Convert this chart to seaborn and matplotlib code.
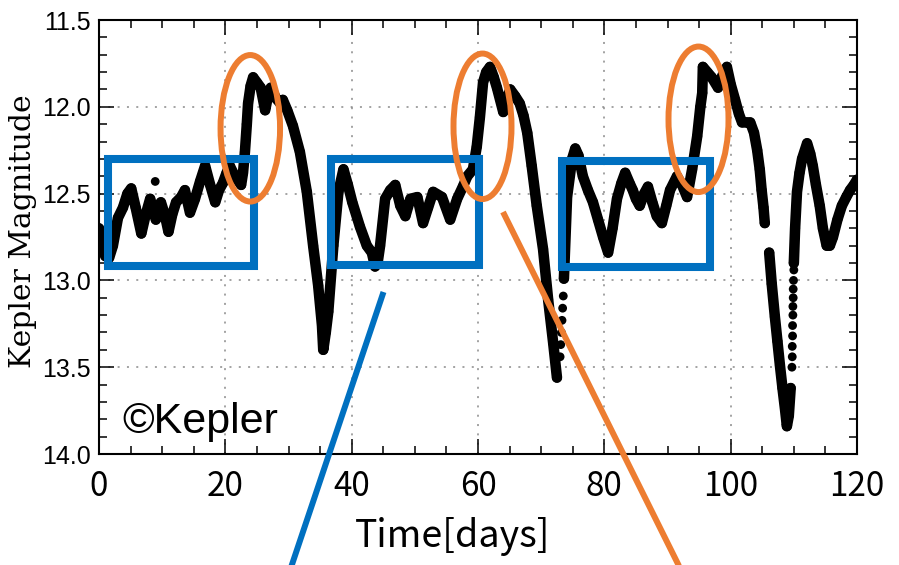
import numpy as np
import pandas as pd
import matplotlib
matplotlib.use("Agg")
import matplotlib.pyplot as plt
import seaborn as sns
from matplotlib.patches import Rectangle, Ellipse
from matplotlib.lines import Line2D
from matplotlib.ticker import MultipleLocator, FormatStrFormatter

# ---------------- data ----------------
seg_a_time = [0.0, 0.5, 1.0, 1.6, 2.2, 3.0, 3.8, 4.5, 5.1, 5.8, 6.7, 7.4, 8.1, 9.0, 9.8,
              10.4, 11.0, 11.6, 12.2, 13.0, 13.6, 14.4, 15.2, 16.0, 16.8, 17.6, 18.4, 19.0,
              19.6, 20.2, 20.7, 21.5, 22.5, 22.8, 23.1, 23.4, 23.6, 24.0, 24.4, 25.0, 25.6,
              26.3, 26.8, 27.2, 28.0, 28.7, 29.1, 29.8, 30.7, 31.8, 32.9, 33.9, 34.7, 35.3,
              35.5, 35.9, 36.3, 37.1, 37.9, 38.7, 39.4, 40.1, 41.3, 42.4, 43.2, 43.7, 44.1,
              44.5, 45.3, 46.1, 46.9, 47.7, 48.5, 49.3, 50.4, 51.3, 52.1, 52.9, 54.3, 55.6,
              56.7, 57.6, 58.3, 59.2, 59.8, 60.3, 60.8, 61.3, 61.9, 62.5, 63.0, 64.0, 64.5,
              65.1, 65.9, 66.6, 67.2, 67.8, 68.5, 69.3, 70.3, 71.1, 71.9, 72.5]
seg_a_mag = [12.70, 12.78, 12.86, 12.87, 12.80, 12.64, 12.58, 12.50, 12.47, 12.58, 12.73, 12.62,
             12.53, 12.65, 12.55, 12.62, 12.72, 12.62, 12.55, 12.52, 12.48, 12.61, 12.53, 12.43,
             12.34, 12.45, 12.55, 12.48, 12.44, 12.38, 12.34, 12.40, 12.45, 12.38, 12.26, 12.10,
             11.98, 11.88, 11.83, 11.86, 11.89, 12.02, 11.93, 11.89, 11.95, 11.98, 11.96, 12.02,
             12.11, 12.26, 12.49, 12.80, 13.03, 13.26, 13.40, 13.30, 13.18, 12.80, 12.49, 12.36,
             12.45, 12.55, 12.69, 12.80, 12.84, 12.92, 12.90, 12.80, 12.53, 12.48, 12.45, 12.57,
             12.63, 12.53, 12.52, 12.67, 12.58, 12.49, 12.52, 12.65, 12.53, 12.46, 12.40, 12.36,
             12.23, 12.06, 11.86, 11.80, 11.77, 11.83, 11.89, 12.03, 11.96, 11.90, 11.94, 11.98,
             12.05, 12.15, 12.34, 12.57, 12.82, 13.11, 13.36, 13.56]

seg_b_time = [73.6, 74.1, 74.9, 75.4, 75.9, 76.6, 77.4, 78.2, 79.0, 79.8, 80.6, 81.3, 82.0,
              82.7, 83.3, 84.0, 84.5, 85.0, 85.6, 86.3, 86.9, 87.6, 88.3, 89.1, 89.8, 90.4,
              91.5, 92.3, 93.1, 93.9, 94.7, 95.2, 95.5, 95.6, 96.3, 97.0, 98.0, 98.7, 99.4,
              100.0, 100.7, 101.3, 101.8, 102.5, 103.1, 103.7, 104.2, 104.6, 104.9, 105.2, 105.4]
seg_b_mag = [12.99, 12.52, 12.30, 12.24, 12.28, 12.40, 12.48, 12.55, 12.65, 12.75, 12.84, 12.70,
             12.53, 12.44, 12.38, 12.44, 12.48, 12.53, 12.57, 12.50, 12.46, 12.55, 12.63, 12.67,
             12.57, 12.48, 12.40, 12.45, 12.52, 12.36, 12.17, 12.00, 11.92, 11.77, 11.80, 11.83,
             11.89, 11.82, 11.77, 11.87, 11.96, 12.04, 12.09, 12.09, 12.09, 12.15, 12.25, 12.36,
             12.48, 12.58, 12.67]

seg_c_time = [106.1, 106.5, 107.0, 107.4, 107.8, 108.2, 108.6, 108.9, 109.2, 109.5]
seg_c_mag = [12.84, 13.02, 13.21, 13.35, 13.49, 13.62, 13.74, 13.84, 13.78, 13.62]

seg_d_time = [110.0, 110.2, 110.5, 110.9, 111.3, 112.1, 112.6, 113.0, 113.5, 114.1, 114.6,
              115.2, 115.7, 116.2, 116.9, 117.6, 118.3, 118.9, 119.5, 120.0]
seg_d_mag = [12.90, 12.70, 12.49, 12.38, 12.30, 12.21, 12.27, 12.34, 12.45, 12.57, 12.70,
             12.80, 12.80, 12.75, 12.65, 12.57, 12.52, 12.48, 12.45, 12.42]

# isolated / sparse points
dots_time = [8.9, 73.0, 73.1, 73.2, 73.3, 73.4, 73.5,
             109.7, 109.75, 109.75, 109.8, 109.8, 109.85, 109.85, 109.9, 109.9, 109.95, 110.0]
dots_mag = [12.43, 13.44, 13.37, 13.30, 13.23, 13.16, 13.09,
            13.50, 13.44, 13.38, 13.32, 13.26, 13.20, 13.15, 13.10, 13.05, 13.00, 12.94]

x_ticks = [0, 20, 40, 60, 80, 100, 120]
y_ticks = [11.5, 12.0, 12.5, 13.0, 13.5, 14.0]

# ---------------- figure ----------------
W, H = 899, 565
sns.set_style("ticks")
plt.rcParams["text.color"] = "black"
plt.rcParams["xtick.color"] = "black"
plt.rcParams["ytick.color"] = "black"
plt.rcParams["xtick.labelcolor"] = "black"
plt.rcParams["ytick.labelcolor"] = "black"
fig = plt.figure(figsize=(W / 100, H / 100), dpi=100)
ax = fig.add_axes([99 / W, 1 - 454 / H, (857 - 99) / W, (454 - 20) / H])

frames = []
for name, t, m in [("a", seg_a_time, seg_a_mag), ("b", seg_b_time, seg_b_mag),
                   ("c", seg_c_time, seg_c_mag), ("d", seg_d_time, seg_d_mag)]:
    frames.append(pd.DataFrame({"time": t, "mag": m, "seg": name}))
df_lines = pd.concat(frames, ignore_index=True)
df_dots = pd.DataFrame({"time": dots_time, "mag": dots_mag})

sns.lineplot(data=df_lines, x="time", y="mag", units="seg", estimator=None, sort=False,
             color="black", lw=7.6, ax=ax, legend=False, zorder=3,
             solid_capstyle="round", solid_joinstyle="round")
sns.scatterplot(data=df_lines, x="time", y="mag", color="black", s=52, edgecolor="none",
                ax=ax, legend=False, zorder=3)
sns.scatterplot(data=df_dots, x="time", y="mag", color="black", s=40, edgecolor="none",
                ax=ax, legend=False, zorder=3)

ax.set_xlim(0, 120)
ax.set_ylim(14.0, 11.5)
ax.set_xticks(x_ticks)
ax.set_yticks(y_ticks)
ax.xaxis.set_minor_locator(MultipleLocator(5))
ax.yaxis.set_minor_locator(MultipleLocator(0.1))
ax.yaxis.set_major_formatter(FormatStrFormatter("%.1f"))
ax.tick_params(which="both", direction="in", top=True, right=True, width=1.1,
               color="black", labelcolor="black")
ax.tick_params(which="major", length=11)
ax.tick_params(which="minor", length=6)
ax.tick_params(axis="x", which="major", pad=11, labelsize=24)
ax.tick_params(axis="y", which="major", pad=6, labelsize=18)
for lab in ax.get_xticklabels():
    lab.set_fontfamily(["Noto Sans CJK JP", "DejaVu Sans"])
for lab in ax.get_yticklabels():
    lab.set_fontfamily(["Liberation Sans", "DejaVu Sans"])
for sp in ax.spines.values():
    sp.set_linewidth(1.5)
    sp.set_color("black")
ax.grid(True, which="major", color="#8a8a8a", lw=1.1, linestyle=(0, (1.3, 4.8)))
ax.set_axisbelow(True)
ax.set_xlabel("")
ax.set_ylabel("")

# axis titles and credit
fig.text(23 / W, 1 - 231.5 / H, "Kepler Magnitude", rotation=90, ha="center", va="center",
         fontsize=21.5, family=["DejaVu Serif"], color="black")
fig.text(452.5 / W, 1 - 547 / H, "Time[days]", ha="center", va="baseline",
         fontsize=27, family=["Noto Sans CJK JP", "DejaVu Sans"], color="black")
fig.text(122 / W, 1 - 433 / H, "©Kepler", ha="left", va="baseline",
         fontsize=31, family=["Liberation Sans", "DejaVu Sans"], color="black", zorder=5)

# ---------------- overlay annotations (figure pixel coordinates) ----------------
def fx(px):
    return px / W

def fy(py):
    return 1 - py / H

blue = "#0070C0"
orange = "#ED7D31"
for (l, r, t, b) in [(107.5, 254, 159, 265.5), (331, 479, 159, 265), (561.5, 710, 161, 267)]:
    fig.patches.append(Rectangle((fx(l), fy(b)), fx(r) - fx(l), fy(t) - fy(b),
                                 transform=fig.transFigure, fill=False, edgecolor=blue,
                                 lw=5.8, zorder=10, joinstyle="miter"))
for (cx, cy, w, h) in [(250.3, 128.3, 59.5, 146.5), (482.5, 126.3, 58, 145.5),
                       (698.5, 119.3, 60, 145.5)]:
    fig.patches.append(Ellipse((fx(cx), fy(cy)), w / W, h / H, transform=fig.transFigure,
                               fill=False, edgecolor=orange, lw=4.3, zorder=10))
fig.lines.append(Line2D([fx(383.5), fx(291.5)], [fy(292), fy(566)], transform=fig.transFigure,
                        color=blue, lw=4.3, zorder=10, solid_capstyle="butt"))
fig.lines.append(Line2D([fx(503), fx(679)], [fy(212), fy(566)], transform=fig.transFigure,
                        color=orange, lw=4.3, zorder=10, solid_capstyle="butt"))

fig.savefig("out.png", dpi=100)
